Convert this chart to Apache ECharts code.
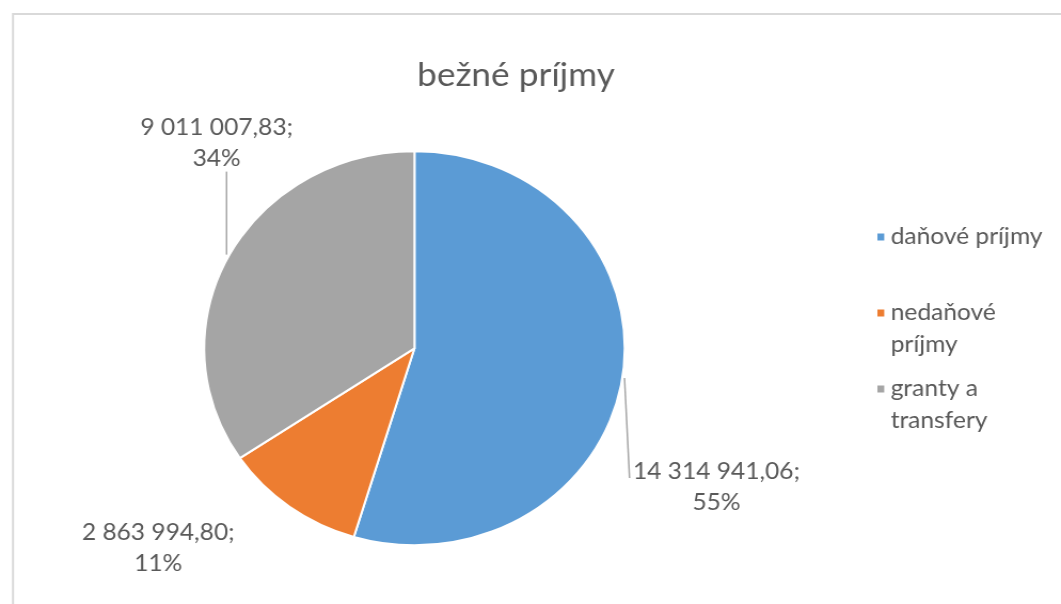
<!DOCTYPE html>
<html><head><meta charset="utf-8">
<script src="https://cdn.jsdelivr.net/npm/echarts@6/dist/echarts.min.js"></script>
<style>html,body{margin:0;padding:0;background:#fff;overflow:hidden}
#c{width:994px;height:604px;transform:scaleX(1.0674);transform-origin:0 0}</style>
</head><body><div id="c"></div>
<script>
const titleText = 'bežné príjmy';
const categories = ['daňové príjmy', 'nedaňové príjmy', 'granty a transfery'];
const legendLabels = ['daňové príjmy', 'nedaňové\npríjmy', 'granty a\ntransfery'];
const values = [14314941.06, 2863994.80, 9011007.83];
const colors = ['#5B9BD5', '#ED7D31', '#A5A5A5'];

// layout (chart space; the page is stretched horizontally like the reference)
const CX = 388.3, CY = 348.3, R = 197;
const labelOffsets = [[88, 110], [-123, 41], [-11.5, -113]];
const lineOffsets = [[[1.9, 1], [6.6, 101]], null, [[-2.2, -1], [-2.2, -84]]];

const total = values.reduce((a, b) => a + b, 0);
function anchorOf(i) {
  let start = 0;
  for (let k = 0; k < i; k++) start += values[k];
  const mid = (start + values[i] / 2) / total;
  const th = mid * Math.PI * 2;
  return [CX + R * Math.sin(th), CY - R * Math.cos(th)];
}
function fmt(v) {
  const parts = v.toFixed(2).split('.');
  const intp = parts[0].replace(/\B(?=(\d{3})+(?!\d))/g, ' ');
  return intp + ',' + parts[1];
}

const chart = echarts.init(document.getElementById('c'));
const font = 'Lato, "Open Sans", sans-serif';
const legends = categories.map((name, i) => ({
  orient: 'vertical',
  left: 820,
  top: [221, 265, 341][i],
  padding: 0,
  itemWidth: 8.4,
  itemHeight: 9,
  itemGap: 6.6,
  icon: 'rect',
  selectedMode: false,
  data: [name],
  formatter: n => {
    const t = legendLabels[categories.indexOf(n)];
    return t.indexOf('\n') >= 0 ? '\n' + t : t;
  },
  textStyle: { color: '#595959', fontSize: 23, lineHeight: 32, fontFamily: font }
}));

chart.setOption({
  animation: false,
  color: colors,
  title: {
    text: titleText,
    left: 483.4,
    top: 59,
    padding: 0,
    textAlign: 'center',
    textStyle: { color: '#595959', fontSize: 33, fontWeight: 'normal', fontFamily: font }
  },
  legend: legends,
  graphic: [{
    type: 'rect',
    shape: { x: 12.2, y: 14, width: 1100, height: 700 },
    style: { fill: 'none', stroke: '#d9d9d9', lineWidth: 2 },
    silent: true
  }],
  series: [{
    type: 'pie',
    center: [CX, CY],
    radius: R,
    startAngle: 90,
    clockwise: true,
    avoidLabelOverlap: false,
    itemStyle: { borderColor: '#ffffff', borderWidth: 2 },
    label: {
      show: true,
      position: 'outside',
      color: '#595959',
      fontSize: 23,
      lineHeight: 31,
      fontFamily: font,
      align: 'center',
      formatter: p => fmt(p.value) + ';\n' + Math.round(p.percent) + '%'
    },
    labelLine: { show: true, lineStyle: { color: '#a6a6a6', width: 1.5 } },
    labelLayout: p => {
      const i = p.dataIndex;
      const a = anchorOf(i);
      const o = labelOffsets[i];
      const res = { x: a[0] + o[0], y: a[1] + o[1], align: 'center', verticalAlign: 'middle' };
      const lo = lineOffsets[i];
      if (lo) res.labelLinePoints = [[a[0] + lo[0][0], a[1] + lo[0][1]], [a[0] + lo[1][0], a[1] + lo[1][1]], [a[0] + lo[1][0], a[1] + lo[1][1]]];
      return res;
    },
    data: categories.map((n, i) => ({
      name: n,
      value: values[i],
      labelLine: { show: i !== 1 }
    }))
  }]
});
</script></body></html>
